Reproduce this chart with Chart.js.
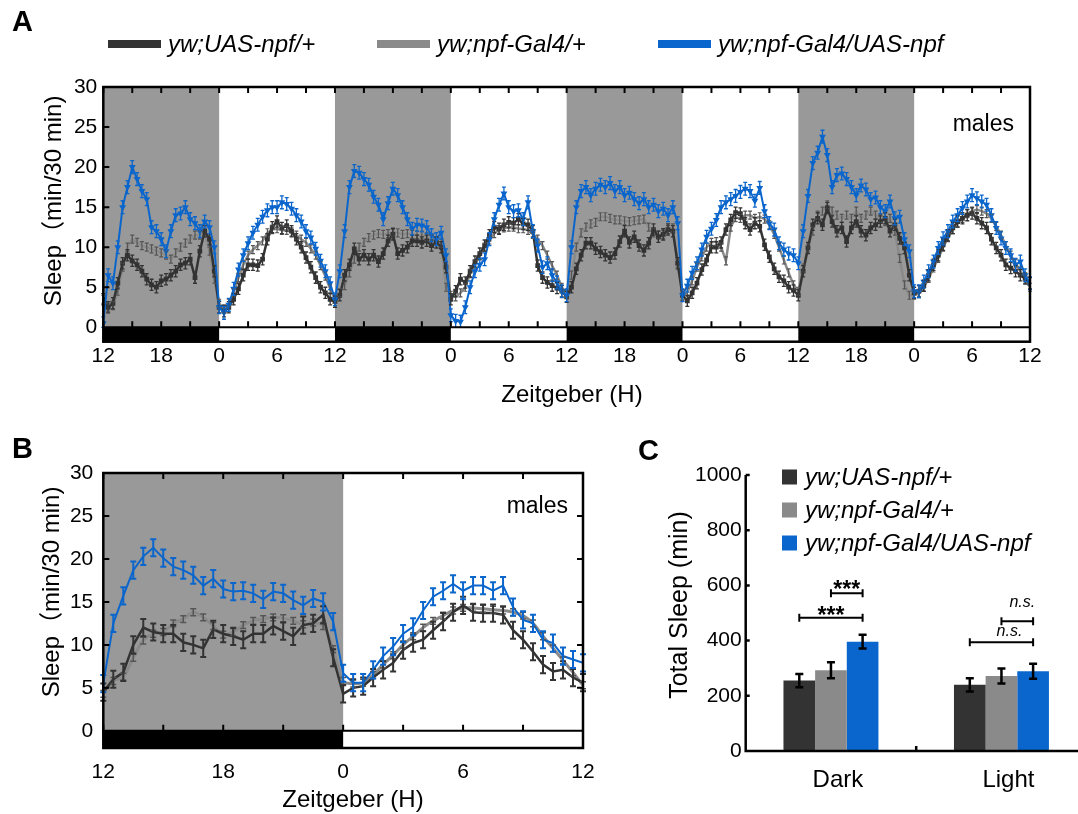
<!DOCTYPE html>
<html>
<head>
<meta charset="utf-8">
<script src="https://cdn.jsdelivr.net/npm/chart.js@4.4.1/dist/chart.umd.min.js"></script>
<style>
  html, body { margin: 0; padding: 0; background: #fff; }
  body { width: 1078px; height: 814px; position: relative; overflow: hidden; }
  canvas { position: absolute; }
</style>
</head>
<body>
<canvas id="chartA" width="1078" height="420" style="left:0px;top:0px"></canvas>
<canvas id="chartB" width="600" height="384" style="left:0px;top:430px"></canvas>
<canvas id="chartC" width="490" height="384" style="left:600px;top:430px"></canvas>
<script>
const FONT = '"Liberation Sans", Arial, "Noto Sans CJK SC", sans-serif';
Chart.defaults.font.family = FONT;
Chart.defaults.color = '#000';

const DARK = '#333333', GREY = '#8a8a8a', BLUE = '#0a66cc', SHADE = '#999999';

// genotypes, same order in every panel
const genotypes = ['yw;UAS-npf/+', 'yw;npf-Gal4/+', 'yw;npf-Gal4/UAS-npf'];
const zeitLabels = ['12', '18', '0', '6'];
const yTicksSleep = [0, 5, 10, 15, 20, 25, 30];
const yTicksTotal = [0, 200, 400, 600, 800, 1000];
const darkPhasesA = [[0, 12], [24, 36], [48, 60], [72, 84]];
const darkPhasesB = [[0, 12]];

// panel A: 4 days, 30 min bins, hour 0 = ZT12 of day 1
const uasNpfA = [
  3.5, 2.5, 3, 5.5, 8, 9, 8.3, 7.8, 7, 6, 5.3, 5, 5.8, 6, 6.5, 7, 7.8, 8, 8.5, 6.2, 9.5, 12, 11, 7, 2.5,
  2, 2.5, 3.5, 4.8, 6.5, 7.8, 7.8, 7.7, 8.5, 11, 12.5, 13.2, 12.4, 12.7, 12, 11, 10, 8.7, 7.5, 6.2, 5, 4.3, 3.5, 3.2,
  4, 6.5, 7.8, 9.8, 8.5, 9, 8.5, 9, 8.2, 9.2, 10.8, 11.6, 9.2, 9.6, 10, 10.8, 10.8, 10.6, 10.8, 10.2, 10.6, 10, 7.5, 3.5,
  4.5, 6, 5.6, 7, 8.2, 9.2, 10.2, 11.5, 12.5, 12.3, 12.8, 13.1, 13, 13.5, 12.9, 12.8, 12, 7.7, 6.2, 5.6, 5.2, 4.9, 4.5, 3.8,
  5, 7.3, 9, 10.5, 10.5, 9.8, 9.4, 9, 8.7, 9.2, 10.7, 12, 10.6, 11.3, 10.2, 9.6, 10.5, 12.2, 11.3, 11.6, 12.2, 12, 8, 4,
  3.3, 4.3, 5.5, 7.2, 8.4, 10, 10, 10.6, 12.2, 13.4, 14.3, 14.2, 13, 12.2, 13, 12.6, 10.3, 8.8, 7.3, 6.3, 5.8, 5, 4.6, 4,
  7, 9.9, 12.8, 13.6, 12.8, 14.9, 13.2, 12, 12.4, 10.7, 12.4, 13.2, 12, 11.5, 12.4, 12.8, 13.2, 13.6, 12, 12.8, 11.1, 9.9, 6.5, 4.3,
  4.5, 5.2, 6.5, 7.8, 9, 10.3, 11.5, 12.4, 13.2, 13.6, 14, 14.2, 13.6, 13, 12.4, 11, 9.9, 9, 7.8, 7.4, 7, 6.5, 6.1, 5.5
];
const gal4A = [
  3.5, 2.5, 2.7, 4.5, 7.5, 10, 11, 10.6, 10.2, 10, 9.8, 9.5, 9.3, 9, 8.5, 9.3, 10, 10.5, 11, 11.5, 11.5, 11.8, 9.5, 6, 3,
  2.3, 3, 4.3, 6.2, 7.8, 9, 9.7, 10.2, 10.8, 11.8, 12.2, 12.3, 12.1, 12.1, 11.9, 11.5, 11, 10.6, 9.8, 9, 7.7, 6.4, 4.8, 3.5,
  4.3, 5.2, 6.8, 8.5, 10, 10.6, 11.2, 11.5, 11.7, 11.6, 11.7, 11.9, 11.8, 11.6, 11.7, 11.6, 11.5, 11.5, 11.3, 11, 10.8, 10.5, 5, 4,
  3.8, 4.3, 5, 6.7, 7.9, 8.9, 10, 10.9, 11.7, 12.2, 12.4, 12.5, 12.5, 12.3, 12.3, 12.1, 11.6, 11, 10.2, 9, 7.7, 6.5, 5, 4.2,
  6.5, 10, 11.8, 12.5, 12.9, 13.1, 13.8, 13.8, 13.6, 13.4, 13.4, 13.3, 13.2, 13.3, 13.4, 13.5, 12.5, 11.8, 11.5, 11.6, 12.2, 12.4, 8, 4,
  4.4, 5.8, 7.5, 8.8, 10, 10.6, 10.7, 10, 8.3, 12.5, 13.7, 13.6, 14, 14, 13.6, 13.8, 13.5, 12.8, 11.6, 10, 8.4, 6.8, 5.3, 4.5,
  7.4, 9.9, 12, 14, 14.5, 15.3, 14.5, 14, 13.6, 14, 13.6, 14.5, 13.6, 14, 14.5, 14, 13.6, 13.2, 13.6, 12, 8.6, 5.3, 4, 4,
  4.2, 5, 6.1, 7.4, 8.6, 10, 11.2, 12.2, 13, 13.6, 14.2, 14.5, 14.7, 14.5, 14.2, 13.6, 12.6, 11.5, 10.2, 9, 8, 7, 6, 5
];
const gal4UasA = [
  0.5, 6.5, 5.5, 10, 15, 17.5, 20, 18.5, 17, 16, 12.5, 12, 11, 9.5, 12, 14, 14.2, 15, 13.5, 13, 12, 13.2, 12.5, 10, 2.5,
  1.8, 2.8, 4.8, 7.2, 9, 10.5, 11.8, 12.8, 13.8, 14.6, 15, 15, 15.6, 15.4, 14.8, 14, 13.2, 12, 11.2, 9.8, 8.3, 7, 5.5, 3.5,
  7, 12, 17.5, 19.5, 19.3, 18.5, 17.8, 16.3, 15.3, 13.5, 15.5, 17.3, 16.5, 15, 13.5, 12.3, 12.8, 12.7, 12.5, 11.5, 11, 11.8, 9, 1.5,
  0.8, 0.7, 2.5, 5, 7, 7.8, 8.5, 11, 13.5, 15.3, 16.7, 15, 14.5, 14.6, 13.5, 15.6, 12, 10.2, 7.5, 8, 6.5, 5.6, 4.5, 4,
  10, 15, 17, 17.5, 16.5, 17.3, 17.8, 17.5, 18, 17, 17.5, 16.5, 16.8, 16, 15.5, 16, 15, 15.3, 14.5, 14.8, 14, 15, 13, 4,
  5.2, 6.8, 8, 9.7, 11.3, 12.3, 13.4, 15, 15.6, 16, 16.4, 16.9, 17.3, 17, 15.8, 17.4, 14.5, 13, 12.2, 10.5, 9.7, 9.2, 9, 8,
  12, 16.4, 20.5, 21.8, 23.8, 21.5, 17.5, 19, 19.2, 18.5, 17.5, 16.5, 17.7, 17.2, 16, 16.2, 15, 14.5, 15.7, 13.6, 13.8, 11, 9.5, 4.5,
  4.5, 5.7, 7, 8.2, 9.9, 11.1, 12, 13.2, 14, 14.9, 15.7, 16.5, 16.1, 15.7, 15.3, 14, 12.4, 11.1, 9.9, 9, 7.8, 8.2, 6.5, 5.5
];
const semA = [0.7, 0.5, 0.8];

// panel B: averaged day, 30 min bins from ZT12
const uasNpfB = [
  4.5, 6, 6.8, 10, 12, 11.5, 11.3, 11.3, 10.3, 10, 9.6, 11.8, 11.3, 11, 10.6, 11.3, 11.3, 12.2, 11.6, 11, 12.3, 12.5, 13.5, 8.5, 4.3,
  5, 5.2, 6.2, 7.1, 7.9, 9.4, 10.2, 10.6, 11.7, 12.7, 13.8, 14.6, 13.8, 13.7, 13.7, 13.5, 11.7, 10.6, 9.2, 7.7, 6.9, 7.1, 6.2, 5.6
];
const gal4B = [
  4.3, 5.8, 6.3, 8.5, 10.5, 11.3, 11.5, 12.5, 13, 13.8, 13.2, 12.2, 11.2, 11.5, 12.3, 12.8, 13, 13.2, 13.1, 12.8, 12.4, 12.6, 12.2, 9.5, 5.8,
  5.5, 5.6, 6.5, 7.7, 8.8, 10, 11, 12, 12.8, 13.4, 14, 14.3, 14.3, 14.2, 14.1, 14, 13.8, 13.4, 12.5, 11, 9.6, 8.2, 6.8, 5.3
];
const gal4UasB = [
  5.5, 12.5, 15.7, 18.7, 20.3, 21.3, 20.1, 19.1, 18.7, 18.1, 16.9, 17.7, 16.5, 16.2, 16.3, 16, 15.3, 16.2, 16, 15.2, 14.6, 15.4, 15, 12.7, 6.7,
  5.6, 5.6, 7.1, 8.7, 9.8, 11.3, 12.1, 14, 15.6, 16.3, 17.1, 16.3, 16.9, 16.9, 16.3, 16.9, 14.4, 12.9, 12.5, 10.6, 10.2, 8.7, 8.3, 7.9
];
const semB = [1.0, 0.4, 1.0];

// panel C: total sleep per phase
const phasesC = ['Dark', 'Light'];
const uasNpfC = [255, 240];
const gal4C = [293, 272];
const gal4UasC = [396, 289];
const uasNpfErrC = [24, 24];
const gal4ErrC = [29, 27];
const gal4UasErrC = [25, 27];

const hoursA = uasNpfA.map((_, i) => i / 2);
const hoursB = uasNpfB.map((_, i) => i / 2);
const xTicksA = Array.from({ length: 33 }, (_, i) => i * 3);
const xTicksB = Array.from({ length: 9 }, (_, i) => i * 3);

const errorBars = {
  id: 'errorBars',
  afterDatasetsDraw(chart) {
    const { ctx, scales: { y } } = chart;
    const metas = chart.getSortedVisibleDatasetMetas();
    for (let m = metas.length - 1; m >= 0; m--) {
      const meta = metas[m];
      const ds = chart.data.datasets[meta.index];
      if (ds.errors === undefined) continue;
      const cap = ds.capHalf || 2;
      ctx.save();
      ctx.strokeStyle = ds.errorColor || ds.borderColor;
      ctx.lineWidth = ds.errorWidth || 1.5;
      ctx.beginPath();
      meta.data.forEach((el, i) => {
        const v = ds.data[i];
        const e = Array.isArray(ds.errors) ? ds.errors[i] : ds.errors;
        const lo = y.getPixelForValue(Math.max(0, v - e));
        const hi = y.getPixelForValue(v + e);
        ctx.moveTo(el.x, lo); ctx.lineTo(el.x, hi);
        ctx.moveTo(el.x - cap, lo); ctx.lineTo(el.x + cap, lo);
        ctx.moveTo(el.x - cap, hi); ctx.lineTo(el.x + cap, hi);
      });
      ctx.stroke();
      ctx.restore();
    }
  }
};

// grey shading for dark phases, LD bar under zero, frame and inner ticks
const lightDark = {
  id: 'lightDark',
  beforeDatasetsDraw(chart, args, o) {
    const { ctx, chartArea: a, scales: { x, y } } = chart;
    const y0 = y.getPixelForValue(0);
    ctx.save();
    o.phases.forEach(([s, e]) => {
      const x1 = x.getPixelForValue(s), x2 = x.getPixelForValue(e);
      ctx.fillStyle = SHADE;
      ctx.fillRect(x1, a.top, x2 - x1, y0 - a.top);
      ctx.fillStyle = '#000';
      ctx.fillRect(x1, y0, x2 - x1, a.bottom - y0);
    });
    ctx.restore();
  },
  afterDraw(chart, args, o) {
    const { ctx, chartArea: a, scales: { x, y } } = chart;
    const y0 = y.getPixelForValue(0);
    ctx.save();
    ctx.strokeStyle = '#000';
    ctx.lineWidth = 2;
    ctx.beginPath();
    x.ticks.forEach(t => {
      const px = x.getPixelForValue(t.value);
      ctx.moveTo(px, a.top); ctx.lineTo(px, a.top + o.tick);
      ctx.moveTo(px, y0); ctx.lineTo(px, y0 - o.tick);
    });
    y.ticks.forEach(t => {
      const py = y.getPixelForValue(t.value);
      ctx.moveTo(a.left, py); ctx.lineTo(a.left + o.tick, py);
      if (o.rightTicks) { ctx.moveTo(a.right, py); ctx.lineTo(a.right - o.tick, py); }
    });
    ctx.moveTo(a.left, y0); ctx.lineTo(a.right, y0);
    ctx.stroke();
    ctx.lineWidth = 2.5;
    ctx.strokeRect(a.left, a.top, a.right - a.left, a.bottom - a.top);
    ctx.restore();
  }
};

const notes = {
  id: 'notes',
  afterDraw(chart, args, o) {
    const ctx = chart.ctx;
    (o.items || []).forEach(n => {
      ctx.save();
      ctx.font = n.font;
      ctx.fillStyle = '#000';
      ctx.textAlign = n.align || 'center';
      ctx.textBaseline = n.baseline || 'middle';
      ctx.translate(n.x, n.y);
      if (n.rotate) ctx.rotate(n.rotate);
      ctx.fillText(n.text, 0, 0);
      ctx.restore();
    });
  }
};

const keyLegend = {
  id: 'keyLegend',
  afterDraw(chart, args, o) {
    if (!o.x) return;
    const ctx = chart.ctx;
    chart.data.datasets.forEach((ds, i) => {
      ctx.save();
      ctx.fillStyle = ds.keyColor;
      ctx.fillRect(o.x[i], o.y[i] - o.h / 2, o.w, o.h);
      ctx.fillStyle = '#000';
      ctx.font = o.font;
      ctx.textAlign = 'left';
      ctx.textBaseline = 'middle';
      ctx.fillText(ds.label, o.x[i] + o.w + o.gap, o.y[i] + 1);
      ctx.restore();
    });
  }
};

function sleepScales(xMax, xTicks, yMin, yWidth, xHeight, xPad, yPad) {
  return {
    x: {
      type: 'linear', min: 0, max: xMax,
      afterBuildTicks: s => { s.ticks = xTicks.map(v => ({ value: v })); },
      ticks: {
        autoSkip: false, maxRotation: 0, padding: xPad, font: { size: 21 },
        callback: v => (v % 6 === 0 ? zeitLabels[(v / 6) % 4] : '')
      },
      grid: { display: false, drawTicks: false },
      border: { display: false },
      afterFit: s => { s.height = xHeight; s.paddingLeft = 0; s.paddingRight = 0; }
    },
    y: {
      min: yMin, max: 30,
      afterBuildTicks: s => { s.ticks = yTicksSleep.map(v => ({ value: v })); },
      ticks: { padding: yPad, font: { size: 21 }, callback: v => String(v) },
      grid: { display: false, drawTicks: false },
      border: { display: false },
      afterFit: s => { s.width = yWidth; s.paddingTop = 0; s.paddingBottom = 0; }
    }
  };
}

function sleepSets(vals, sem, big) {
  return [
    {
      label: genotypes[0], data: vals[0], errors: sem[0], keyColor: DARK,
      borderColor: DARK, backgroundColor: DARK, borderWidth: 2.5,
      pointStyle: 'rect', pointRadius: big ? 1.6 : 0, order: 1,
      capHalf: big ? 2 : 3, errorWidth: big ? 1.3 : 2
    },
    {
      label: genotypes[1], data: vals[1], errors: sem[1], keyColor: GREY,
      borderColor: GREY, backgroundColor: GREY, borderWidth: big ? 2.5 : 3,
      pointRadius: 0, order: 2, tension: big ? 0 : 0.35,
      errorColor: '#555555', capHalf: big ? 2 : 3, errorWidth: big ? 1.2 : 1.5
    },
    {
      label: genotypes[2], data: vals[2], errors: sem[2], keyColor: BLUE,
      borderColor: BLUE, backgroundColor: BLUE, borderWidth: 2,
      pointStyle: 'triangle', rotation: 180, pointRadius: big ? 2 : 0, order: 0,
      capHalf: big ? 2 : 3, errorWidth: big ? 1.3 : 2
    }
  ];
}

const plotFont = s => s + 'px ' + FONT;

new Chart(document.getElementById('chartA'), {
  type: 'line',
  data: { labels: hoursA, datasets: sleepSets([uasNpfA, gal4A, gal4UasA], semA, true) },
  options: {
    responsive: false, animation: false, devicePixelRatio: 1,
    layout: { padding: { left: 0, top: 87, right: 48, bottom: 0 } },
    scales: sleepScales(96, xTicksA, -1.8, 103.3, 78.3, 2, 6),
    plugins: {
      legend: { display: false }, tooltip: { enabled: false },
      lightDark: { phases: darkPhasesA, tick: 6, rightTicks: false },
      keyLegend: { x: [108, 377, 658], y: [44, 44, 44], w: 53, h: 8, gap: 7, font: 'italic ' + plotFont(24) },
      notes: { items: [
        { text: 'A', x: 12, y: 23, align: 'left', font: 'bold ' + plotFont(29) },
        { text: 'Sleep\uFF08min/30 min)', x: 54, y: 201, rotate: -Math.PI / 2, font: plotFont(24) },
        { text: 'Zeitgeber (H)', x: 572, y: 395, font: plotFont(24) },
        { text: 'males', x: 1014, y: 131, align: 'right', baseline: 'alphabetic', font: plotFont(23) }
      ] }
    }
  },
  plugins: [lightDark, errorBars, notes, keyLegend]
});

new Chart(document.getElementById('chartB'), {
  type: 'line',
  data: { labels: hoursB, datasets: sleepSets([uasNpfB, gal4B, gal4UasB], semB, false) },
  options: {
    responsive: false, animation: false, devicePixelRatio: 1,
    layout: { padding: { left: 0, top: 43, right: 17, bottom: 0 } },
    scales: sleepScales(24, xTicksB, -2, 103.3, 66, 12, 10),
    plugins: {
      legend: { display: false }, tooltip: { enabled: false },
      lightDark: { phases: darkPhasesB, tick: 6, rightTicks: true },
      notes: { items: [
        { text: 'B', x: 12, y: 20, align: 'left', font: 'bold ' + plotFont(29) },
        { text: 'Sleep\uFF08min/30 min)', x: 52, y: 162, rotate: -Math.PI / 2, font: plotFont(24) },
        { text: 'Zeitgeber (H)', x: 353, y: 370, font: plotFont(24) },
        { text: 'males', x: 568, y: 83, align: 'right', baseline: 'alphabetic', font: plotFont(23) }
      ] }
    }
  },
  plugins: [lightDark, errorBars, notes]
});

// significance brackets: category, from/to dataset, height in minutes
const sigMarks = [
  { cat: 0, from: 0, to: 2, level: 483, text: '***', dx: 0, dy: 5, font: 'bold ' + plotFont(23) },
  { cat: 0, from: 1, to: 2, level: 572, text: '***', dx: 0, dy: 4, font: 'bold ' + plotFont(23) },
  { cat: 1, from: 0, to: 2, level: 394, text: 'n.s.', dx: 8, dy: -6, font: 'italic ' + plotFont(16) },
  { cat: 1, from: 1, to: 2, level: 470, text: 'n.s.', dx: 5, dy: -14, font: 'italic ' + plotFont(16) }
];

const barFrame = {
  id: 'barFrame',
  afterDraw(chart, args, o) {
    const { ctx, chartArea: a, scales: { x, y } } = chart;
    ctx.save();
    ctx.strokeStyle = '#000';
    ctx.lineWidth = 2.5;
    ctx.beginPath();
    ctx.moveTo(a.left, a.top); ctx.lineTo(a.left, a.bottom); ctx.lineTo(chart.width, a.bottom);
    y.ticks.forEach(t => {
      const py = y.getPixelForValue(t.value);
      ctx.moveTo(a.left, py); ctx.lineTo(a.left + 4, py);
    });
    const mid = x.getPixelForValue(0.5);
    ctx.moveTo(mid, a.bottom); ctx.lineTo(mid, a.bottom - 5);
    ctx.stroke();
    ctx.lineWidth = 2;
    sigMarks.forEach(m => {
      const x1 = chart.getDatasetMeta(m.from).data[m.cat].x;
      const x2 = chart.getDatasetMeta(m.to).data[m.cat].x;
      const py = y.getPixelForValue(m.level);
      ctx.beginPath();
      ctx.moveTo(x1, py); ctx.lineTo(x2, py);
      ctx.moveTo(x1, py - 4); ctx.lineTo(x1, py + 4);
      ctx.moveTo(x2, py - 4); ctx.lineTo(x2, py + 4);
      ctx.stroke();
      ctx.font = m.font;
      ctx.fillStyle = '#000';
      ctx.textAlign = 'center';
      ctx.textBaseline = 'alphabetic';
      ctx.fillText(m.text, (x1 + x2) / 2 + m.dx, py + m.dy);
    });
    ctx.restore();
  }
};

const barSet = (i, vals, errs, col) => ({
  label: genotypes[i], data: vals, errors: errs, keyColor: col,
  backgroundColor: col, borderWidth: 0,
  errorColor: '#000', errorWidth: 2.5, capHalf: 4,
  categoryPercentage: 0.557, barPercentage: 1
});

new Chart(document.getElementById('chartC'), {
  type: 'bar',
  data: {
    labels: phasesC,
    datasets: [
      barSet(0, uasNpfC, uasNpfErrC, DARK),
      barSet(1, gal4C, gal4ErrC, GREY),
      barSet(2, gal4UasC, gal4UasErrC, BLUE)
    ]
  },
  options: {
    responsive: false, animation: false, devicePixelRatio: 1,
    layout: { padding: { left: 0, top: 45, right: 3.3, bottom: 0 } },
    scales: {
      x: {
        ticks: { padding: 15, labelOffset: 7, font: { size: 24 } },
        grid: { display: false, drawTicks: false },
        border: { display: false },
        afterFit: s => { s.height = 63; s.paddingLeft = 0; s.paddingRight = 0; }
      },
      y: {
        min: 0, max: 1000,
        afterBuildTicks: s => { s.ticks = yTicksTotal.map(v => ({ value: v })); },
        ticks: { padding: 4, font: { size: 21 }, callback: v => String(v) },
        grid: { display: false, drawTicks: false },
        border: { display: false },
        afterFit: s => { s.width = 145.7; s.paddingTop = 0; s.paddingBottom = 0; }
      }
    },
    plugins: {
      legend: { display: false }, tooltip: { enabled: false },
      keyLegend: { x: [182, 182, 182], y: [47, 80, 113], w: 15, h: 15, gap: 8, font: 'italic ' + plotFont(24) },
      notes: { items: [
        { text: 'C', x: 38, y: 22, align: 'left', font: 'bold ' + plotFont(29) },
        { text: 'Total Sleep (min)', x: 80, y: 175, rotate: -Math.PI / 2, font: plotFont(25) }
      ] }
    }
  },
  plugins: [errorBars, barFrame, notes, keyLegend]
});
</script>
</body>
</html>
